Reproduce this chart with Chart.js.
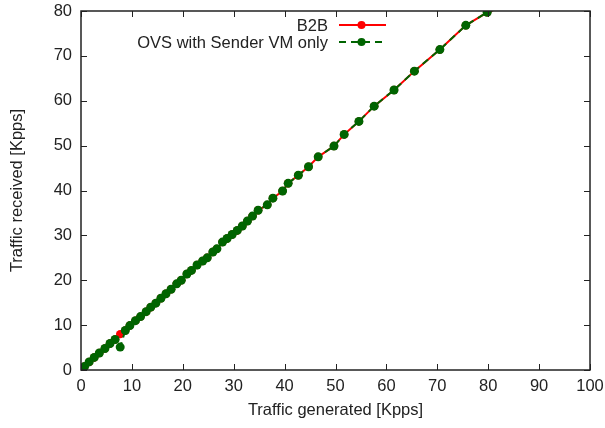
<!DOCTYPE html>
<html>
<head>
<meta charset="utf-8">
<script src="https://cdn.jsdelivr.net/npm/chart.js@4"></script>
<style>
  html, body { margin: 0; padding: 0; background: #fff; }
  #wrap { width: 605px; height: 428px; }
</style>
</head>
<body>
<div id="wrap"><canvas id="chart" width="605" height="428"></canvas></div>
<script>
// traffic generated (Kpps)
const generated = [0.7, 1.6, 2.6, 3.6, 4.7, 5.7, 6.7, 7.7, 8.7, 9.6, 10.7, 11.7, 12.8, 13.7, 14.7, 15.7, 16.7, 17.7,
  18.8, 19.7, 20.8, 21.7, 22.8, 23.9, 24.8, 25.9, 26.7, 27.8, 28.7, 29.7, 30.7, 31.7, 32.7, 33.7, 34.8, 36.6,
  37.7, 39.6, 40.7, 42.7, 44.7, 46.6, 49.7, 51.7, 54.6, 57.6, 61.5, 65.5, 70.5, 75.6, 79.8, 88];
// traffic received (Kpps)
const b2b = [0.8, 1.8, 2.8, 3.8, 4.8, 5.9, 6.8, 8.0, 8.8, 9.9, 11.0, 11.9, 13.0, 14.0, 14.9, 16.0, 17.0, 18.0,
  19.2, 20.0, 21.4, 22.2, 23.4, 24.3, 25.0, 26.3, 27.0, 28.5, 29.3, 30.2, 31.1, 32.1, 33.2, 34.3, 35.6, 36.8,
  38.3, 39.9, 41.6, 43.4, 45.3, 47.5, 49.9, 52.5, 55.4, 58.8, 62.4, 66.6, 71.4, 76.8, 79.7, 83];
const ovsSender = [0.8, 1.8, 2.8, 3.8, 4.8, 5.9, 6.8, 5.1, 8.8, 9.9, 11.0, 11.9, 13.0, 14.0, 14.9, 16.0, 17.0, 18.0,
  19.2, 20.0, 21.4, 22.2, 23.4, 24.3, 25.0, 26.3, 27.0, 28.5, 29.3, 30.2, 31.1, 32.1, 33.2, 34.3, 35.6, 36.8,
  38.3, 39.9, 41.6, 43.4, 45.3, 47.5, 49.9, 52.5, 55.4, 58.8, 62.4, 66.6, 71.4, 76.8, 79.7, 83.5];

const seriesNames = ["B2B", "OVS with Sender VM only"];
const RED = "#ff0000";
const GREEN = "#006400";
const FONT = "'Liberation Sans', Arial, sans-serif";
const FSIZE = 16.5;

const toPoints = (ys) => ys.map((y, i) => ({ x: generated[i], y: y }));

// inward tick marks on all four sides + the frame
const frameTicks = {
  id: "frameTicks",
  afterDraw(chart) {
    const { ctx, chartArea: a, scales } = chart;
    ctx.save();
    ctx.strokeStyle = "#222";
    ctx.lineWidth = 1;
    const len = 6;
    scales.x.ticks.forEach((t) => {
      const px = Math.round(scales.x.getPixelForValue(t.value)) + 0.5;
      ctx.beginPath();
      ctx.moveTo(px, a.bottom); ctx.lineTo(px, a.bottom - len);
      ctx.moveTo(px, a.top); ctx.lineTo(px, a.top + len);
      ctx.stroke();
    });
    scales.y.ticks.forEach((t) => {
      const py = Math.round(scales.y.getPixelForValue(t.value)) + 0.5;
      ctx.beginPath();
      ctx.moveTo(a.left, py); ctx.lineTo(a.left + len, py);
      ctx.moveTo(a.right, py); ctx.lineTo(a.right - len, py);
      ctx.stroke();
    });
    ctx.lineWidth = 1.5;
    ctx.strokeRect(a.left, a.top, a.right - a.left, a.bottom - a.top);
    ctx.restore();
  },
};

// gnuplot style key: text right aligned, sample line on the right
const gnuKey = {
  id: "gnuKey",
  afterDraw(chart) {
    const { ctx } = chart;
    const textRight = 328, x0 = 339, x1 = 386, rows = [25, 42];
    const styles = [
      { color: RED, dash: [] },
      { color: GREEN, dash: [7, 5] },
    ];
    ctx.save();
    ctx.font = FSIZE + "px " + FONT;
    ctx.textAlign = "right";
    ctx.textBaseline = "middle";
    seriesNames.forEach((name, i) => {
      const y = rows[i];
      ctx.fillStyle = "#222";
      ctx.fillText(name, textRight, y + 1);
      ctx.strokeStyle = styles[i].color;
      ctx.lineWidth = 2;
      ctx.setLineDash(styles[i].dash);
      ctx.beginPath();
      ctx.moveTo(x0, y); ctx.lineTo(x1, y);
      ctx.stroke();
      ctx.setLineDash([]);
      ctx.fillStyle = styles[i].color;
      ctx.beginPath();
      ctx.arc((x0 + x1) / 2 - 1, y, 4, 0, Math.PI * 2);
      ctx.fill();
    });
    ctx.restore();
  },
};

new Chart(document.getElementById("chart").getContext("2d"), {
  type: "line",
  data: {
    datasets: [
      {
        label: seriesNames[0],
        data: toPoints(b2b),
        borderColor: RED,
        backgroundColor: RED,
        borderWidth: 2,
        pointRadius: 4.2,
        pointBorderWidth: 0,
        tension: 0,
        order: 2,
      },
      {
        label: seriesNames[1],
        data: toPoints(ovsSender),
        borderColor: GREEN,
        backgroundColor: GREEN,
        borderWidth: 2,
        borderDash: [7, 5],
        pointRadius: 4.5,
        pointBorderWidth: 0,
        tension: 0,
        order: 1,
      },
    ],
  },
  options: {
    responsive: false,
    animation: false,
    layout: { padding: 0 },
    plugins: {
      legend: { display: false },
      tooltip: { enabled: false },
    },
    scales: {
      x: {
        type: "linear",
        min: 0,
        max: 100,
        grid: { display: false, drawTicks: false },
        border: { display: false },
        ticks: { stepSize: 10, padding: 7, color: "#222", font: { family: FONT, size: FSIZE }, maxRotation: 0 },
        title: {
          display: true,
          text: "Traffic generated [Kpps]",
          color: "#222",
          font: { family: FONT, size: FSIZE },
          padding: { top: 0, bottom: 8 },
        },
        afterFit(scale) {
          scale.height = 58;
          scale.paddingLeft = 0;
          scale.paddingRight = 15;
        },
      },
      y: {
        type: "linear",
        min: 0,
        max: 80,
        grid: { display: false, drawTicks: false },
        border: { display: false },
        ticks: { stepSize: 10, padding: 9, color: "#222", font: { family: FONT, size: FSIZE } },
        title: {
          display: true,
          text: "Traffic received [Kpps]",
          color: "#222",
          font: { family: FONT, size: FSIZE },
          padding: { top: 8, bottom: 0 },
        },
        afterFit(scale) {
          scale.width = 81;
          scale.paddingTop = 11;
          scale.paddingBottom = 0;
        },
      },
    },
  },
  plugins: [frameTicks, gnuKey],
});
</script>
</body>
</html>
